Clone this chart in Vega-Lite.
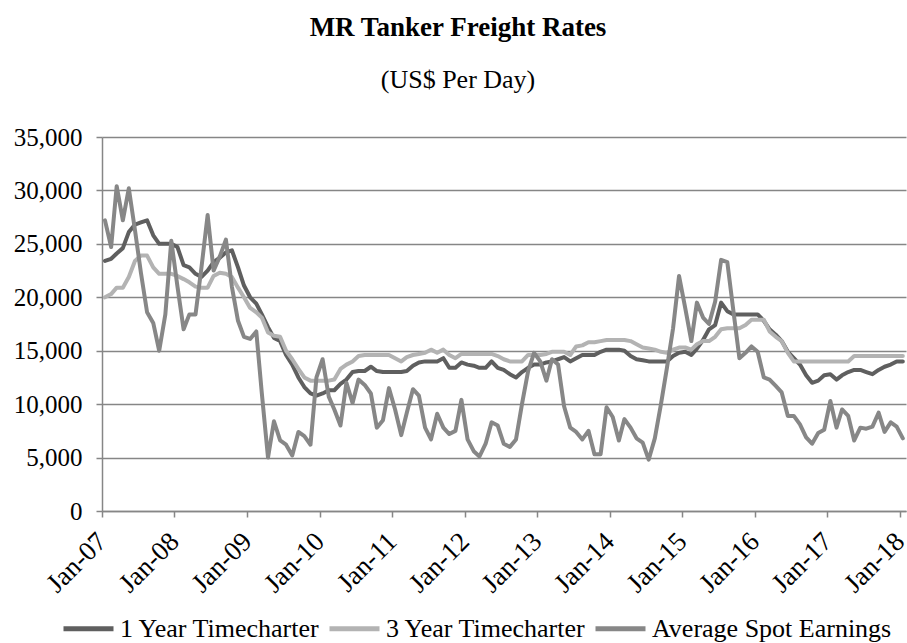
{
  "$schema": "https://vega.github.io/schema/vega-lite/v6.json",
  "width": 804,
  "height": 374,
  "autosize": {"type": "none"},
  "padding": {"left": 102, "top": 137, "right": 1, "bottom": 132},
  "background": "white",
  "title": {
    "text": "MR Tanker Freight Rates",
    "subtitle": "(US$ Per Day)",
    "font": "Liberation Serif",
    "fontSize": 27,
    "fontWeight": "bold",
    "color": "black",
    "subtitleFont": "Liberation Serif",
    "subtitleFontSize": 26,
    "subtitleColor": "black",
    "subtitlePadding": 25,
    "frame": "group",
    "anchor": "middle",
    "dx": -46,
    "offset": 31
  },
  "config": {"view": {"stroke": null}},
  "data": {
    "values": [
      {"date": "2007-01-16T00:00:00", "1 Year Timecharter": 23400, "3 Year Timecharter": 20000, "Average Spot Earnings": 27200},
      {"date": "2007-02-16T00:00:00", "1 Year Timecharter": 23600, "3 Year Timecharter": 20300, "Average Spot Earnings": 24700},
      {"date": "2007-03-16T00:00:00", "1 Year Timecharter": 24100, "3 Year Timecharter": 20900, "Average Spot Earnings": 30400},
      {"date": "2007-04-16T00:00:00", "1 Year Timecharter": 24600, "3 Year Timecharter": 20900, "Average Spot Earnings": 27200},
      {"date": "2007-05-16T00:00:00", "1 Year Timecharter": 26100, "3 Year Timecharter": 21900, "Average Spot Earnings": 30200},
      {"date": "2007-06-16T00:00:00", "1 Year Timecharter": 26800, "3 Year Timecharter": 23400, "Average Spot Earnings": 26300},
      {"date": "2007-07-16T00:00:00", "1 Year Timecharter": 27000, "3 Year Timecharter": 23900, "Average Spot Earnings": 22300},
      {"date": "2007-08-16T00:00:00", "1 Year Timecharter": 27200, "3 Year Timecharter": 23900, "Average Spot Earnings": 18600},
      {"date": "2007-09-16T00:00:00", "1 Year Timecharter": 25800, "3 Year Timecharter": 22800, "Average Spot Earnings": 17600},
      {"date": "2007-10-16T00:00:00", "1 Year Timecharter": 25000, "3 Year Timecharter": 22200, "Average Spot Earnings": 15000},
      {"date": "2007-11-16T00:00:00", "1 Year Timecharter": 25000, "3 Year Timecharter": 22200, "Average Spot Earnings": 18400},
      {"date": "2007-12-16T00:00:00", "1 Year Timecharter": 25000, "3 Year Timecharter": 22200, "Average Spot Earnings": 25300},
      {"date": "2008-01-16T00:00:00", "1 Year Timecharter": 24700, "3 Year Timecharter": 22000, "Average Spot Earnings": 21000},
      {"date": "2008-02-16T00:00:00", "1 Year Timecharter": 23000, "3 Year Timecharter": 21700, "Average Spot Earnings": 17000},
      {"date": "2008-03-16T00:00:00", "1 Year Timecharter": 22800, "3 Year Timecharter": 21400, "Average Spot Earnings": 18400},
      {"date": "2008-04-16T00:00:00", "1 Year Timecharter": 22200, "3 Year Timecharter": 21000, "Average Spot Earnings": 18400},
      {"date": "2008-05-16T00:00:00", "1 Year Timecharter": 21900, "3 Year Timecharter": 20900, "Average Spot Earnings": 22800},
      {"date": "2008-06-16T00:00:00", "1 Year Timecharter": 22500, "3 Year Timecharter": 20900, "Average Spot Earnings": 27700},
      {"date": "2008-07-16T00:00:00", "1 Year Timecharter": 23300, "3 Year Timecharter": 22000, "Average Spot Earnings": 22500},
      {"date": "2008-08-16T00:00:00", "1 Year Timecharter": 23700, "3 Year Timecharter": 22300, "Average Spot Earnings": 23800},
      {"date": "2008-09-16T00:00:00", "1 Year Timecharter": 24200, "3 Year Timecharter": 22200, "Average Spot Earnings": 25400},
      {"date": "2008-10-16T00:00:00", "1 Year Timecharter": 24400, "3 Year Timecharter": 21900, "Average Spot Earnings": 21000},
      {"date": "2008-11-16T00:00:00", "1 Year Timecharter": 22800, "3 Year Timecharter": 20900, "Average Spot Earnings": 17800},
      {"date": "2008-12-16T00:00:00", "1 Year Timecharter": 21100, "3 Year Timecharter": 20000, "Average Spot Earnings": 16300},
      {"date": "2009-01-16T00:00:00", "1 Year Timecharter": 20000, "3 Year Timecharter": 19000, "Average Spot Earnings": 16100},
      {"date": "2009-02-16T00:00:00", "1 Year Timecharter": 19400, "3 Year Timecharter": 18600, "Average Spot Earnings": 16800},
      {"date": "2009-03-16T00:00:00", "1 Year Timecharter": 18400, "3 Year Timecharter": 18100, "Average Spot Earnings": 11000},
      {"date": "2009-04-16T00:00:00", "1 Year Timecharter": 17200, "3 Year Timecharter": 16700, "Average Spot Earnings": 5000},
      {"date": "2009-05-16T00:00:00", "1 Year Timecharter": 16200, "3 Year Timecharter": 16400, "Average Spot Earnings": 8400},
      {"date": "2009-06-16T00:00:00", "1 Year Timecharter": 15900, "3 Year Timecharter": 16300, "Average Spot Earnings": 6600},
      {"date": "2009-07-16T00:00:00", "1 Year Timecharter": 14600, "3 Year Timecharter": 15000, "Average Spot Earnings": 6200},
      {"date": "2009-08-16T00:00:00", "1 Year Timecharter": 13700, "3 Year Timecharter": 14200, "Average Spot Earnings": 5200},
      {"date": "2009-09-16T00:00:00", "1 Year Timecharter": 12500, "3 Year Timecharter": 13300, "Average Spot Earnings": 7400},
      {"date": "2009-10-16T00:00:00", "1 Year Timecharter": 11600, "3 Year Timecharter": 12500, "Average Spot Earnings": 7000},
      {"date": "2009-11-16T00:00:00", "1 Year Timecharter": 11000, "3 Year Timecharter": 12200, "Average Spot Earnings": 6200},
      {"date": "2009-12-16T00:00:00", "1 Year Timecharter": 10800, "3 Year Timecharter": 12200, "Average Spot Earnings": 12500},
      {"date": "2010-01-16T00:00:00", "1 Year Timecharter": 11000, "3 Year Timecharter": 12200, "Average Spot Earnings": 14200},
      {"date": "2010-02-16T00:00:00", "1 Year Timecharter": 11300, "3 Year Timecharter": 12200, "Average Spot Earnings": 10700},
      {"date": "2010-03-16T00:00:00", "1 Year Timecharter": 11300, "3 Year Timecharter": 12300, "Average Spot Earnings": 9500},
      {"date": "2010-04-16T00:00:00", "1 Year Timecharter": 11900, "3 Year Timecharter": 13300, "Average Spot Earnings": 8000},
      {"date": "2010-05-16T00:00:00", "1 Year Timecharter": 12300, "3 Year Timecharter": 13700, "Average Spot Earnings": 12000},
      {"date": "2010-06-16T00:00:00", "1 Year Timecharter": 13000, "3 Year Timecharter": 14000, "Average Spot Earnings": 10100},
      {"date": "2010-07-16T00:00:00", "1 Year Timecharter": 13100, "3 Year Timecharter": 14500, "Average Spot Earnings": 12300},
      {"date": "2010-08-16T00:00:00", "1 Year Timecharter": 13100, "3 Year Timecharter": 14600, "Average Spot Earnings": 11800},
      {"date": "2010-09-16T00:00:00", "1 Year Timecharter": 13500, "3 Year Timecharter": 14600, "Average Spot Earnings": 11000},
      {"date": "2010-10-16T00:00:00", "1 Year Timecharter": 13100, "3 Year Timecharter": 14600, "Average Spot Earnings": 7800},
      {"date": "2010-11-16T00:00:00", "1 Year Timecharter": 13000, "3 Year Timecharter": 14600, "Average Spot Earnings": 8500},
      {"date": "2010-12-16T00:00:00", "1 Year Timecharter": 13000, "3 Year Timecharter": 14600, "Average Spot Earnings": 11500},
      {"date": "2011-01-16T00:00:00", "1 Year Timecharter": 13000, "3 Year Timecharter": 14300, "Average Spot Earnings": 9500},
      {"date": "2011-02-16T00:00:00", "1 Year Timecharter": 13000, "3 Year Timecharter": 14000, "Average Spot Earnings": 7100},
      {"date": "2011-03-16T00:00:00", "1 Year Timecharter": 13100, "3 Year Timecharter": 14400, "Average Spot Earnings": 9200},
      {"date": "2011-04-16T00:00:00", "1 Year Timecharter": 13600, "3 Year Timecharter": 14600, "Average Spot Earnings": 11400},
      {"date": "2011-05-16T00:00:00", "1 Year Timecharter": 13900, "3 Year Timecharter": 14700, "Average Spot Earnings": 10800},
      {"date": "2011-06-16T00:00:00", "1 Year Timecharter": 14000, "3 Year Timecharter": 14800, "Average Spot Earnings": 7800},
      {"date": "2011-07-16T00:00:00", "1 Year Timecharter": 14000, "3 Year Timecharter": 15100, "Average Spot Earnings": 6700},
      {"date": "2011-08-16T00:00:00", "1 Year Timecharter": 14000, "3 Year Timecharter": 14800, "Average Spot Earnings": 9100},
      {"date": "2011-09-16T00:00:00", "1 Year Timecharter": 14300, "3 Year Timecharter": 15100, "Average Spot Earnings": 7800},
      {"date": "2011-10-16T00:00:00", "1 Year Timecharter": 13400, "3 Year Timecharter": 14600, "Average Spot Earnings": 7200},
      {"date": "2011-11-16T00:00:00", "1 Year Timecharter": 13400, "3 Year Timecharter": 14300, "Average Spot Earnings": 7500},
      {"date": "2011-12-16T00:00:00", "1 Year Timecharter": 13900, "3 Year Timecharter": 14700, "Average Spot Earnings": 10400},
      {"date": "2012-01-16T00:00:00", "1 Year Timecharter": 13700, "3 Year Timecharter": 14700, "Average Spot Earnings": 6700},
      {"date": "2012-02-16T00:00:00", "1 Year Timecharter": 13600, "3 Year Timecharter": 14700, "Average Spot Earnings": 5600},
      {"date": "2012-03-16T00:00:00", "1 Year Timecharter": 13400, "3 Year Timecharter": 14700, "Average Spot Earnings": 5100},
      {"date": "2012-04-16T00:00:00", "1 Year Timecharter": 13400, "3 Year Timecharter": 14700, "Average Spot Earnings": 6300},
      {"date": "2012-05-16T00:00:00", "1 Year Timecharter": 14000, "3 Year Timecharter": 14700, "Average Spot Earnings": 8300},
      {"date": "2012-06-16T00:00:00", "1 Year Timecharter": 13400, "3 Year Timecharter": 14500, "Average Spot Earnings": 8000},
      {"date": "2012-07-16T00:00:00", "1 Year Timecharter": 13200, "3 Year Timecharter": 14200, "Average Spot Earnings": 6300},
      {"date": "2012-08-16T00:00:00", "1 Year Timecharter": 12800, "3 Year Timecharter": 14000, "Average Spot Earnings": 6000},
      {"date": "2012-09-16T00:00:00", "1 Year Timecharter": 12500, "3 Year Timecharter": 14000, "Average Spot Earnings": 6700},
      {"date": "2012-10-16T00:00:00", "1 Year Timecharter": 13000, "3 Year Timecharter": 14000, "Average Spot Earnings": 10000},
      {"date": "2012-11-16T00:00:00", "1 Year Timecharter": 13400, "3 Year Timecharter": 14600, "Average Spot Earnings": 13100},
      {"date": "2012-12-16T00:00:00", "1 Year Timecharter": 13700, "3 Year Timecharter": 14600, "Average Spot Earnings": 14800},
      {"date": "2013-01-16T00:00:00", "1 Year Timecharter": 13700, "3 Year Timecharter": 14600, "Average Spot Earnings": 14000},
      {"date": "2013-02-16T00:00:00", "1 Year Timecharter": 13900, "3 Year Timecharter": 14700, "Average Spot Earnings": 12200},
      {"date": "2013-03-16T00:00:00", "1 Year Timecharter": 14000, "3 Year Timecharter": 14900, "Average Spot Earnings": 14200},
      {"date": "2013-04-16T00:00:00", "1 Year Timecharter": 14200, "3 Year Timecharter": 14900, "Average Spot Earnings": 13700},
      {"date": "2013-05-16T00:00:00", "1 Year Timecharter": 14400, "3 Year Timecharter": 14900, "Average Spot Earnings": 9800},
      {"date": "2013-06-16T00:00:00", "1 Year Timecharter": 14000, "3 Year Timecharter": 14600, "Average Spot Earnings": 7800},
      {"date": "2013-07-16T00:00:00", "1 Year Timecharter": 14300, "3 Year Timecharter": 15400, "Average Spot Earnings": 7400},
      {"date": "2013-08-16T00:00:00", "1 Year Timecharter": 14600, "3 Year Timecharter": 15500, "Average Spot Earnings": 6700},
      {"date": "2013-09-16T00:00:00", "1 Year Timecharter": 14600, "3 Year Timecharter": 15800, "Average Spot Earnings": 7500},
      {"date": "2013-10-16T00:00:00", "1 Year Timecharter": 14600, "3 Year Timecharter": 15800, "Average Spot Earnings": 5300},
      {"date": "2013-11-16T00:00:00", "1 Year Timecharter": 14900, "3 Year Timecharter": 15900, "Average Spot Earnings": 5300},
      {"date": "2013-12-16T00:00:00", "1 Year Timecharter": 15100, "3 Year Timecharter": 16000, "Average Spot Earnings": 9700},
      {"date": "2014-01-16T00:00:00", "1 Year Timecharter": 15100, "3 Year Timecharter": 16000, "Average Spot Earnings": 8800},
      {"date": "2014-02-16T00:00:00", "1 Year Timecharter": 15100, "3 Year Timecharter": 16000, "Average Spot Earnings": 6600},
      {"date": "2014-03-16T00:00:00", "1 Year Timecharter": 15000, "3 Year Timecharter": 16000, "Average Spot Earnings": 8600},
      {"date": "2014-04-16T00:00:00", "1 Year Timecharter": 14500, "3 Year Timecharter": 15900, "Average Spot Earnings": 7800},
      {"date": "2014-05-16T00:00:00", "1 Year Timecharter": 14200, "3 Year Timecharter": 15600, "Average Spot Earnings": 6800},
      {"date": "2014-06-16T00:00:00", "1 Year Timecharter": 14100, "3 Year Timecharter": 15300, "Average Spot Earnings": 6400},
      {"date": "2014-07-16T00:00:00", "1 Year Timecharter": 14000, "3 Year Timecharter": 15200, "Average Spot Earnings": 4800},
      {"date": "2014-08-16T00:00:00", "1 Year Timecharter": 14000, "3 Year Timecharter": 15100, "Average Spot Earnings": 6800},
      {"date": "2014-09-16T00:00:00", "1 Year Timecharter": 14000, "3 Year Timecharter": 14900, "Average Spot Earnings": 10000},
      {"date": "2014-10-16T00:00:00", "1 Year Timecharter": 14000, "3 Year Timecharter": 14800, "Average Spot Earnings": 13400},
      {"date": "2014-11-16T00:00:00", "1 Year Timecharter": 14500, "3 Year Timecharter": 15100, "Average Spot Earnings": 17100},
      {"date": "2014-12-16T00:00:00", "1 Year Timecharter": 14800, "3 Year Timecharter": 15300, "Average Spot Earnings": 22000},
      {"date": "2015-01-16T00:00:00", "1 Year Timecharter": 14900, "3 Year Timecharter": 15300, "Average Spot Earnings": 19000},
      {"date": "2015-02-16T00:00:00", "1 Year Timecharter": 14600, "3 Year Timecharter": 15100, "Average Spot Earnings": 15900},
      {"date": "2015-03-16T00:00:00", "1 Year Timecharter": 15200, "3 Year Timecharter": 15600, "Average Spot Earnings": 19500},
      {"date": "2015-04-16T00:00:00", "1 Year Timecharter": 16000, "3 Year Timecharter": 15900, "Average Spot Earnings": 18100},
      {"date": "2015-05-16T00:00:00", "1 Year Timecharter": 17000, "3 Year Timecharter": 15900, "Average Spot Earnings": 17500},
      {"date": "2015-06-16T00:00:00", "1 Year Timecharter": 17400, "3 Year Timecharter": 16300, "Average Spot Earnings": 19600},
      {"date": "2015-07-16T00:00:00", "1 Year Timecharter": 19500, "3 Year Timecharter": 17000, "Average Spot Earnings": 23500},
      {"date": "2015-08-16T00:00:00", "1 Year Timecharter": 18700, "3 Year Timecharter": 17100, "Average Spot Earnings": 23300},
      {"date": "2015-09-16T00:00:00", "1 Year Timecharter": 18400, "3 Year Timecharter": 17100, "Average Spot Earnings": 18700},
      {"date": "2015-10-16T00:00:00", "1 Year Timecharter": 18400, "3 Year Timecharter": 17100, "Average Spot Earnings": 14300},
      {"date": "2015-11-16T00:00:00", "1 Year Timecharter": 18400, "3 Year Timecharter": 17400, "Average Spot Earnings": 14800},
      {"date": "2015-12-16T00:00:00", "1 Year Timecharter": 18400, "3 Year Timecharter": 17900, "Average Spot Earnings": 15400},
      {"date": "2016-01-16T00:00:00", "1 Year Timecharter": 18400, "3 Year Timecharter": 17900, "Average Spot Earnings": 14900},
      {"date": "2016-02-16T00:00:00", "1 Year Timecharter": 17800, "3 Year Timecharter": 17900, "Average Spot Earnings": 12500},
      {"date": "2016-03-16T00:00:00", "1 Year Timecharter": 17000, "3 Year Timecharter": 16800, "Average Spot Earnings": 12300},
      {"date": "2016-04-16T00:00:00", "1 Year Timecharter": 16500, "3 Year Timecharter": 16300, "Average Spot Earnings": 11700},
      {"date": "2016-05-16T00:00:00", "1 Year Timecharter": 15900, "3 Year Timecharter": 15900, "Average Spot Earnings": 11100},
      {"date": "2016-06-16T00:00:00", "1 Year Timecharter": 14900, "3 Year Timecharter": 14800, "Average Spot Earnings": 8900},
      {"date": "2016-07-16T00:00:00", "1 Year Timecharter": 14300, "3 Year Timecharter": 14000, "Average Spot Earnings": 8900},
      {"date": "2016-08-16T00:00:00", "1 Year Timecharter": 13700, "3 Year Timecharter": 14000, "Average Spot Earnings": 8100},
      {"date": "2016-09-16T00:00:00", "1 Year Timecharter": 12700, "3 Year Timecharter": 14000, "Average Spot Earnings": 6900},
      {"date": "2016-10-16T00:00:00", "1 Year Timecharter": 12000, "3 Year Timecharter": 14000, "Average Spot Earnings": 6300},
      {"date": "2016-11-16T00:00:00", "1 Year Timecharter": 12200, "3 Year Timecharter": 14000, "Average Spot Earnings": 7300},
      {"date": "2016-12-16T00:00:00", "1 Year Timecharter": 12700, "3 Year Timecharter": 14000, "Average Spot Earnings": 7600},
      {"date": "2017-01-16T00:00:00", "1 Year Timecharter": 12800, "3 Year Timecharter": 14000, "Average Spot Earnings": 10300},
      {"date": "2017-02-16T00:00:00", "1 Year Timecharter": 12300, "3 Year Timecharter": 14000, "Average Spot Earnings": 7800},
      {"date": "2017-03-16T00:00:00", "1 Year Timecharter": 12700, "3 Year Timecharter": 14000, "Average Spot Earnings": 9500},
      {"date": "2017-04-16T00:00:00", "1 Year Timecharter": 13000, "3 Year Timecharter": 14000, "Average Spot Earnings": 8900},
      {"date": "2017-05-16T00:00:00", "1 Year Timecharter": 13200, "3 Year Timecharter": 14500, "Average Spot Earnings": 6600},
      {"date": "2017-06-16T00:00:00", "1 Year Timecharter": 13200, "3 Year Timecharter": 14500, "Average Spot Earnings": 7800},
      {"date": "2017-07-16T00:00:00", "1 Year Timecharter": 13000, "3 Year Timecharter": 14500, "Average Spot Earnings": 7700},
      {"date": "2017-08-16T00:00:00", "1 Year Timecharter": 12800, "3 Year Timecharter": 14500, "Average Spot Earnings": 7900},
      {"date": "2017-09-16T00:00:00", "1 Year Timecharter": 13200, "3 Year Timecharter": 14500, "Average Spot Earnings": 9200},
      {"date": "2017-10-16T00:00:00", "1 Year Timecharter": 13500, "3 Year Timecharter": 14500, "Average Spot Earnings": 7400},
      {"date": "2017-11-16T00:00:00", "1 Year Timecharter": 13700, "3 Year Timecharter": 14500, "Average Spot Earnings": 8300},
      {"date": "2017-12-16T00:00:00", "1 Year Timecharter": 14000, "3 Year Timecharter": 14500, "Average Spot Earnings": 7900},
      {"date": "2018-01-16T00:00:00", "1 Year Timecharter": 14000, "3 Year Timecharter": 14500, "Average Spot Earnings": 6800}
    ]
  },
  "transform": [
    {"fold": ["1 Year Timecharter", "3 Year Timecharter", "Average Spot Earnings"], "as": ["series", "value"]}
  ],
  "mark": {"type": "line", "strokeWidth": 4, "strokeJoin": "round", "strokeCap": "round"},
  "encoding": {
    "x": {
      "field": "date",
      "type": "temporal",
      "scale": {"domain": [{"year": 2007, "month": 1, "date": 1}, {"year": 2018, "month": 2, "date": 1}]},
      "axis": {
        "title": null,
        "format": "%b-%y",
        "tickCount": {"interval": "year", "step": 1},
        "labelAngle": -45,
        "labelAlign": "right",
        "labelBaseline": "middle",
        "labelPadding": 20,
        "labelDx": -4,
        "labelFont": "Liberation Serif",
        "labelFontSize": 27,
        "labelColor": "black",
        "labelOverlap": false,
        "labelBound": false,
        "labelFlush": false,
        "domainColor": "#868686",
        "domainWidth": 1.5,
        "tickColor": "#868686",
        "tickWidth": 1.5,
        "tickSize": 6,
        "grid": false
      }
    },
    "y": {
      "field": "value",
      "type": "quantitative",
      "scale": {"domain": [0, 35000], "nice": false},
      "axis": {
        "title": null,
        "values": [0, 5000, 10000, 15000, 20000, 25000, 30000, 35000],
        "format": ",d",
        "labelFont": "Liberation Serif",
        "labelFontSize": 25,
        "labelColor": "black",
        "labelPadding": 14,
        "domainColor": "#868686",
        "domainWidth": 1.5,
        "tickColor": "#868686",
        "tickWidth": 1.5,
        "tickSize": 6,
        "grid": true,
        "gridColor": "#868686",
        "gridWidth": 1.5
      }
    },
    "color": {
      "field": "series",
      "type": "nominal",
      "scale": {
        "domain": ["1 Year Timecharter", "3 Year Timecharter", "Average Spot Earnings"],
        "range": ["#5f5f5f", "#b3b3b3", "#878787"]
      },
      "legend": {
        "orient": "none",
        "legendX": -41,
        "legendY": 464,
        "direction": "horizontal",
        "title": null,
        "symbolType": "stroke",
        "symbolSize": 2500,
        "symbolStrokeWidth": 5,
        "labelFont": "Liberation Serif",
        "labelFontSize": 26,
        "labelColor": "black",
        "labelLimit": 0,
        "labelOffset": 4,
        "columnPadding": -2
      }
    }
  }
}
